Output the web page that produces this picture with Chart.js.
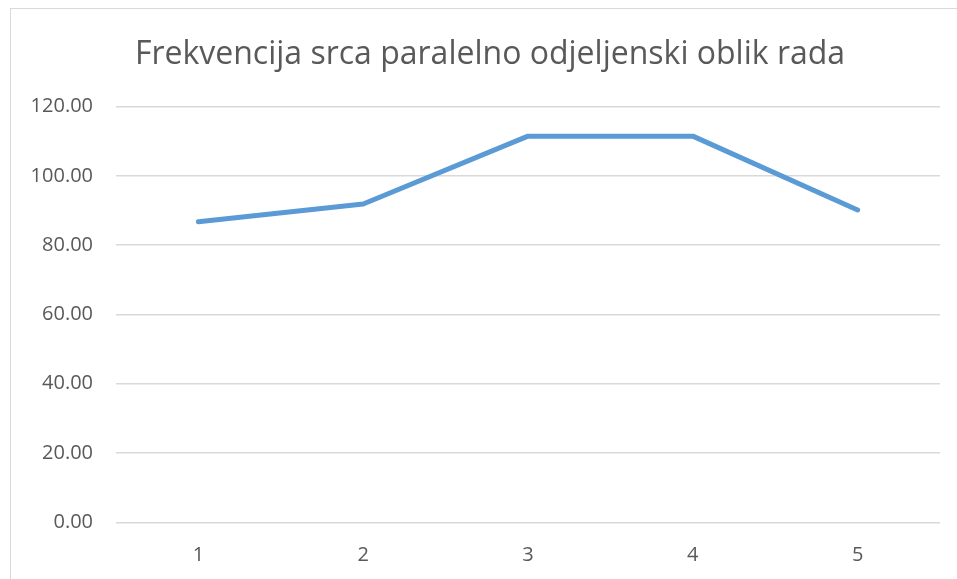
<!DOCTYPE html>
<html>
<head>
<meta charset="utf-8">
<script src="https://cdn.jsdelivr.net/npm/chart.js@4.4.1/dist/chart.umd.min.js"></script>
<style>
  html, body { margin: 0; padding: 0; background: #ffffff; }
  #wrap { position: relative; width: 957px; height: 579px; overflow: hidden; }
  #frame { position: absolute; left: 10px; top: 8px; width: 960px; height: 600px; border-left: 1px solid #d9d9d9; border-top: 1px solid #d9d9d9; box-sizing: border-box; }
  #c { position: absolute; left: 0; top: 0; }
</style>
</head>
<body>
<div id="wrap">
  <div id="frame"></div>
  <canvas id="c" width="957" height="579"></canvas>
</div>
<script>
const chartTitle = 'Frekvencija srca paralelno odjeljenski oblik rada';
const categories = ['1', '2', '3', '4', '5'];
const heartRate = [86.8, 91.9, 111.5, 111.5, 90.2];
const yTicks = [0, 20, 40, 60, 80, 100, 120];

const shiftTitle = {
  id: 'shiftTitle',
  afterLayout(chart) {
    const t = chart.titleBlock;
    if (t) { t.left = 20; t.right = 960; }
  }
};

const ctx = document.getElementById('c');
new Chart(ctx, {
  type: 'line',
  data: {
    labels: categories,
    datasets: [{
      label: 'Frekvencija srca',
      data: heartRate,
      borderColor: '#5b9bd5',
      backgroundColor: '#5b9bd5',
      borderWidth: 5,
      borderCapStyle: 'round',
      borderJoinStyle: 'round',
      pointRadius: 0,
      pointHoverRadius: 0,
      tension: 0,
      fill: false
    }]
  },
  plugins: [shiftTitle],
  options: {
    responsive: false,
    animation: false,
    devicePixelRatio: 1,
    layout: { padding: { left: 0, right: 17, top: 0, bottom: 0 } },
    plugins: {
      legend: { display: false },
      tooltip: { enabled: false },
      title: {
        display: true,
        text: chartTitle,
        color: '#595959',
        font: { family: 'Open Sans', size: 32, weight: 'normal' },
        padding: { top: 36, bottom: 32.3 }
      }
    },
    scales: {
      x: {
        offset: true,
        grid: { display: false, drawTicks: false },
        border: { display: false },
        ticks: { color: '#595959', font: { family: 'Open Sans', size: 20 }, padding: 21 },
        afterFit: (s) => { s.height = 56.7; }
      },
      y: {
        min: 0,
        max: 120,
        afterBuildTicks: (s) => { s.ticks = yTicks.map(v => ({ value: v })); },
        grid: { color: '#d9d9d9', lineWidth: 1.5, drawTicks: false },
        border: { display: false },
        ticks: {
          color: '#595959',
          font: { family: 'Open Sans', size: 20 },
          padding: 23,
          callback: (v) => Number(v).toFixed(2)
        },
        afterFit: (s) => { s.width = 116; }
      }
    }
  }
});
</script>
</body>
</html>
